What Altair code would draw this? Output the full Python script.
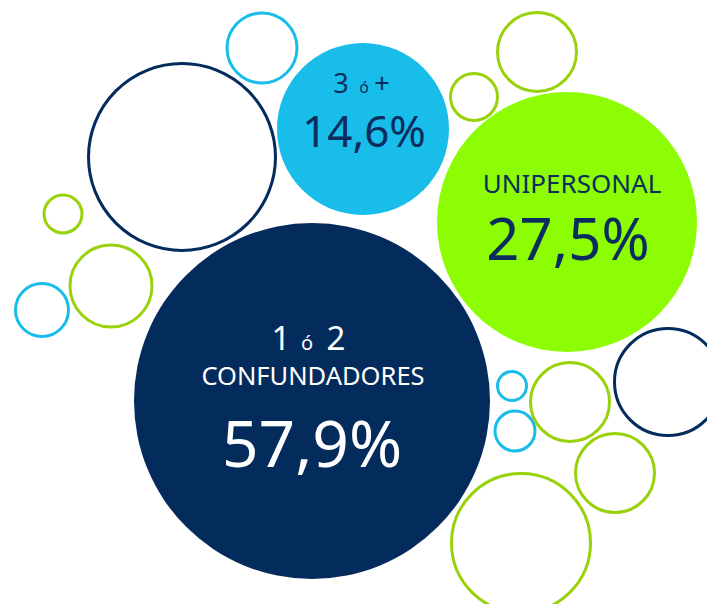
import altair as alt
import pandas as pd

# Bubbles: centre x, centre y, radius (pixel-like units), colour, filled
bx = [312, 363, 567, 182, 262, 537, 474, 63, 111, 42, 668, 512, 515, 570, 615, 521]
by = [401, 129, 222, 157, 48, 52, 97, 214, 286, 310, 382, 386, 431, 402, 473, 543]
br = [178, 86, 130, 93.5, 35, 39.5, 23.5, 19, 41, 26.5, 53.5, 14.5, 20, 39.5, 39.5, 69.5]
bcol = ["#032C5C", "#18BDE9", "#8CFD02", "#032C5C", "#18BDE9", "#99D10B", "#99D10B",
        "#99D10B", "#99D10B", "#18BDE9", "#032C5C", "#18BDE9", "#18BDE9", "#99D10B",
        "#99D10B", "#99D10B"]
bfill = [True, True, True] + [False] * 13

# Labels
lx = [341, 364, 382, 364, 572, 568, 281, 307, 336, 313, 312]
ly = [93, 93, 93, 147, 193, 260, 350, 350, 350, 385, 467]
ltext = ["3", "ó", "+", "14,6%", "UNIPERSONAL", "27,5%", "1", "ó", "2",
         "CONFUNDADORES", "57,9%"]
lsize = [27, 16, 27, 44, 26, 58, 33, 20, 33, 25.5, 64]
lcol = ["#0B2D5E"] * 6 + ["#FFFFFF"] * 5

bub = pd.DataFrame({"x": bx, "y": by, "r": br, "c": bcol, "f": bfill})
# Vega symbol size is the area of the bounding square: (2r)^2
bub["area"] = [(2 * r) ** 2 for r in br]
lab = pd.DataFrame({"x": lx, "y": ly, "t": ltext, "s": lsize, "c": lcol})

W, H = 699, 596
xs = alt.Scale(domain=[8, 8 + W], nice=False, zero=False)
ys = alt.Scale(domain=[8, 8 + H], nice=False, zero=False, reverse=True)
X = alt.X("x:Q", scale=xs, axis=None)
Y = alt.Y("y:Q", scale=ys, axis=None)

filled = alt.Chart(bub).transform_filter("datum.f").mark_circle(
    opacity=1, clip=True
).encode(X, Y, size=alt.Size("area:Q", scale=None, legend=None),
         color=alt.Color("c:N", scale=None))

outline = alt.Chart(bub).transform_filter("!datum.f").mark_circle(
    filled=False, opacity=1, strokeWidth=3, clip=True
).encode(X, Y, size=alt.Size("area:Q", scale=None, legend=None),
         stroke=alt.Stroke("c:N", scale=None))

text = alt.Chart(lab).mark_text(
    font="Noto Sans", baseline="alphabetic", align="center"
).encode(X, Y, text="t:N", size=alt.Size("s:Q", scale=None, legend=None),
         color=alt.Color("c:N", scale=None))

chart = alt.layer(outline, filled, text).properties(
    width=W, height=H, padding=0, autosize=alt.AutoSizeParams(type="none"),
    background="white"
).configure_view(stroke=None)

chart.save("out.html", embed_options={"renderer": "svg", "actions": False})
